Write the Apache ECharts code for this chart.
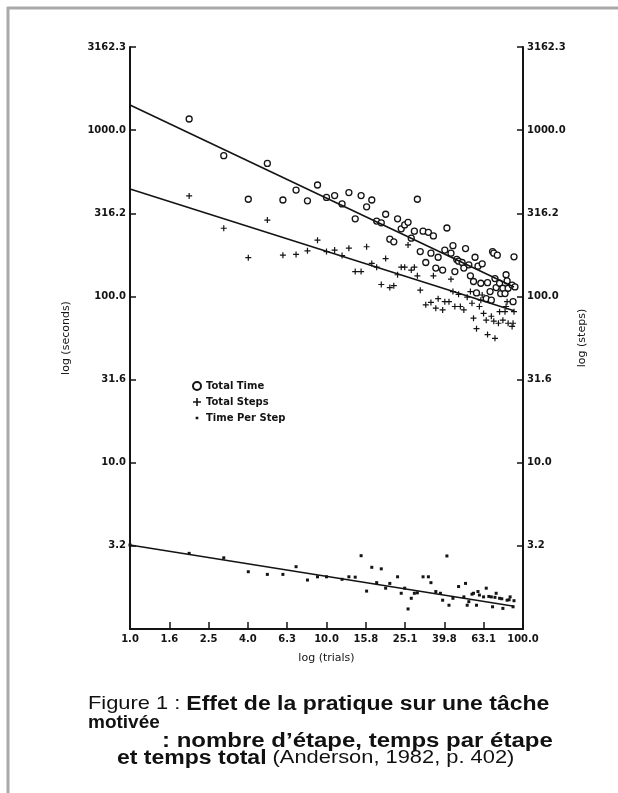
<!DOCTYPE html>
<html><head><meta charset="utf-8">
<script src="https://cdn.jsdelivr.net/npm/echarts@6/dist/echarts.min.js"></script>
<style>html,body{margin:0;padding:0;background:#fff}#c{width:618px;height:793px}</style>
</head><body><div id="c"></div>
<script>
// ---- tick labels ----
const xTickLabels = ['1.0','1.6','2.5','4.0','6.3','10.0','15.8','25.1','39.8','63.1','100.0'];
const yTickLabels = ['','3.2','10.0','31.6','100.0','316.2','1000.0','3162.3'];

// ---- Total Time (seconds) ----
const timeTrials  = [2,3,4,5,6,7,8,9,10,11,12,13,14,15,16,17,18,19,20,21,22,23,24,25,26,27,28,29,30,31,32,33,34,35,36,37,39,40,41,43,44,45,46,47,49,50,51,53,54,56,57,58,59,61,62,65,66,68,69,70,71,72,73,74,76,77,79,81,82,83,84,88,89,90,91];
const timeSeconds = [1167,702,384,631,380,436,376,468,394,404,360,421,293,404,346,380,284,277,312,221,213,293,255,269,279,224,247,384,186,247,160,243,182,231,148,172,144,190,258,182,202,141,167,163,160,148,194,155,133,123,172,105,152,120,157,97,121,107,95,186,182,128,113,177,120,104,112,104,135,124,112,117,93,173,114];

// ---- Total Steps ----
const stepTrials = [2,3,4,5,6,7,8,9,10,11,12,13,14,15,16,17,18,19,20,21,22,23,24,25,26,27,28,29,30,32,34,35,36,37,39,40,42,43,44,45,47,48,50,52,54,55,56,58,60,61,62,63,65,66,69,71,72,75,76,79,81,82,83,84,88,89,90];
const stepCounts = [402,257,171,288,177,179,188,218,186,190,176,195,141,141,199,158,150,118,169,113,116,135,150,150,204,144,150,133,109,89,92,133,85,97,83,93,93,127,107,87,103,87,83,99,107,91,74,64,87,95,102,79,72,59,76,71,56,69,81,72,81,87,93,69,66,69,81];

// ---- Time Per Step (seconds) ----
const tpsTrials = [1,2,3,4,5,6,7,8,9,10,12,13,14,15,16,17,18,19,20,21,23,24,25,26,27,28,29,31,33,34,36,38,39,41,42,44,47,50,51,52,53,55,56,58,59,60,63,65,67,69,70,72,73,76,78,79,83,85,86,89,90];
const tpsValues = [3.2,2.85,2.68,2.21,2.13,2.13,2.37,1.97,2.06,2.06,1.99,2.06,2.05,2.76,1.69,2.35,1.90,2.30,1.76,1.88,2.06,1.64,1.76,1.32,1.53,1.64,1.65,2.06,2.06,1.90,1.68,1.64,1.49,2.75,1.39,1.53,1.80,1.56,1.88,1.39,1.46,1.62,1.64,1.39,1.68,1.60,1.56,1.76,1.57,1.56,1.36,1.55,1.64,1.53,1.52,1.33,1.49,1.50,1.56,1.36,1.48];

// ---- fitted power-law lines (end points) ----
const fitTrials = [1, 90];
const fitTime   = [1416, 114];
const fitSteps  = [443, 82];
const fitTps    = [3.2, 1.37];

const L = Math.log10;
const pts = (xs, ys) => xs.map((x, i) => [L(x), L(ys[i])]);

const INK = '#141414';
const lblFont = {fontFamily: 'DejaVu Sans', fontWeight: 'bold', fontSize: 10, color: INK};
const plusPath = 'path://M2,0h1v2h2v1h-2v2h-1v-2h-2v-1h2z';
const dotPath = 'path://M0,0h0.01v0.01h-0.01z M3,3h3v3h-3z M8.99,8.99h0.01v0.01h-0.01z';

const yAxisBase = (pos) => ({
  type: 'value', position: pos, min: 0, max: 3.5, interval: 0.5,
  axisLine: {show: true, lineStyle: {color: INK, width: 2}},
  axisTick: {show: true, inside: true, length: 6, lineStyle: {color: INK, width: 1.5}},
  axisLabel: Object.assign({margin: 4, formatter: v => yTickLabels[Math.round(v / 0.5)]}, lblFont),
  splitLine: {show: false},
  name: pos === 'left' ? 'log (seconds)' : 'log (steps)',
  nameLocation: 'middle', nameRotate: 90,
  nameGap: pos === 'left' ? 58 : 48,
  nameTextStyle: {fontFamily: 'DejaVu Sans', fontSize: 11, color: INK}
});

const capBold = {fontFamily: 'Liberation Sans', fontSize: 20, fontWeight: 'bold', fill: '#111'};
const capNorm = {fontFamily: 'Liberation Sans', fontSize: 19, fill: '#111'};
const capScale = 1.15;

const chart = echarts.init(document.getElementById('c'), null, {renderer: 'canvas'});
chart.setOption({
  backgroundColor: '#fff',
  animation: false,
  grid: {left: 130, right: 95, top: 47, bottom: 164},
  xAxis: {
    type: 'value', min: 0, max: 2, interval: 0.2,
    axisLine: {show: true, lineStyle: {color: INK, width: 2}},
    axisTick: {show: true, inside: true, length: 7, lineStyle: {color: INK, width: 1.5}},
    axisLabel: Object.assign({margin: 5, formatter: v => xTickLabels[Math.round(v / 0.2)]}, lblFont),
    splitLine: {show: false},
    name: 'log (trials)', nameLocation: 'middle', nameGap: 24,
    nameTextStyle: {fontFamily: 'DejaVu Sans', fontSize: 11, color: INK}
  },
  yAxis: [yAxisBase('left'), yAxisBase('right')],
  legend: {
    orient: 'vertical', left: 187, top: 376, itemWidth: 8, itemHeight: 8, itemGap: 6,
    textStyle: {fontFamily: 'DejaVu Sans', fontWeight: 'bold', fontSize: 10, color: INK},
    data: [
      {name: 'Total Time', icon: 'circle'},
      {name: 'Total Steps', icon: plusPath},
      {name: 'Time Per Step', icon: dotPath}
    ]
  },
  series: [
    {name: 'fitTime', type: 'line', data: pts(fitTrials, fitTime), symbol: 'none', silent: true,
     lineStyle: {color: INK, width: 1.6}},
    {name: 'fitSteps', type: 'line', data: pts(fitTrials, fitSteps), symbol: 'none', silent: true,
     lineStyle: {color: INK, width: 1.6}},
    {name: 'fitTps', type: 'line', data: pts(fitTrials, fitTps), symbol: 'none', silent: true,
     lineStyle: {color: INK, width: 1.6}},
    {name: 'Total Time', type: 'scatter', data: pts(timeTrials, timeSeconds), symbol: 'circle', symbolSize: 6,
     itemStyle: {color: '#fff', borderColor: INK, borderWidth: 1.3, opacity: 1}},
    {name: 'Total Steps', type: 'scatter', data: pts(stepTrials, stepCounts), symbol: plusPath, symbolSize: 6,
     itemStyle: {color: INK, opacity: 1}},
    {name: 'Time Per Step', type: 'scatter', data: pts(tpsTrials, tpsValues), symbol: 'rect', symbolSize: 3,
     itemStyle: {color: INK, opacity: 1}}
  ],
  graphic: [
    {type: 'line', silent: true, shape: {x1: 8, y1: 7, x2: 8, y2: 793}, style: {stroke: '#aaaaaa', lineWidth: 3}},
    {type: 'line', silent: true, shape: {x1: 7, y1: 8, x2: 618, y2: 8}, style: {stroke: '#aaaaaa', lineWidth: 3}},
    {type: 'text', silent: true, x: 88, y: 704, scaleX: capScale,
     style: {text: '{n|Figure 1 : }{b|Effet de la pratique sur une tâche}', verticalAlign: 'middle',
       rich: {n: capNorm, b: capBold}}},
    {type: 'text', silent: true, x: 88, y: 723, scaleX: 1.0,
     style: {text: 'motivée', font: 'bold 19px "Liberation Sans"', fill: '#111', verticalAlign: 'middle'}},
    {type: 'text', silent: true, x: 162, y: 741, scaleX: 1.2,
     style: {text: ': nombre d’étape, temps par étape', font: 'bold 20px "Liberation Sans"', fill: '#111', verticalAlign: 'middle'}},
    {type: 'text', silent: true, x: 117, y: 758, scaleX: capScale,
     style: {text: '{b|et temps total}{n| (Anderson, 1982, p. 402)}', verticalAlign: 'middle',
       rich: {n: capNorm, b: capBold}}}
  ]
});
</script></body></html>
